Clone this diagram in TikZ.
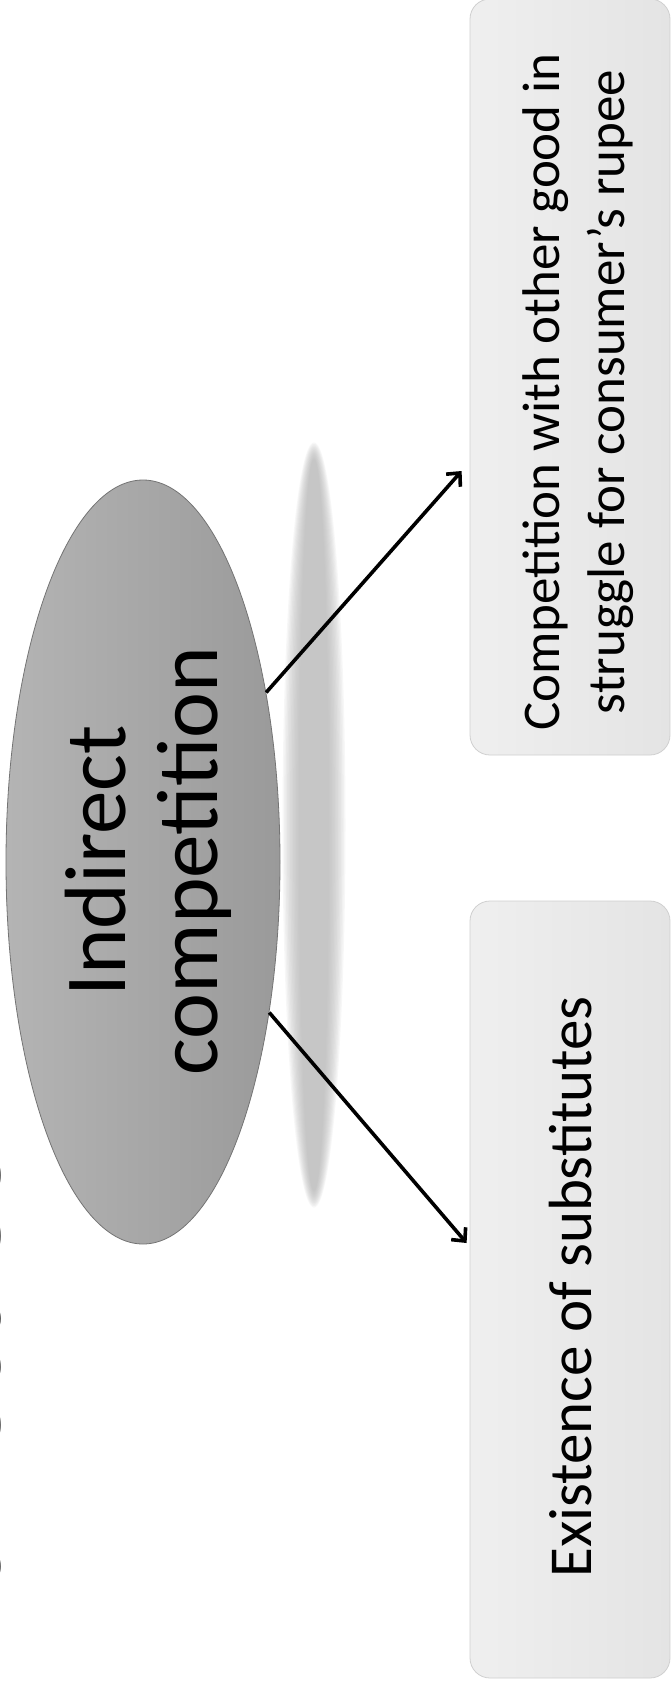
\documentclass[tikz,border=0pt]{standalone}
\usepackage{fontspec}
\setmainfont{Carlito}
\usetikzlibrary{arrows.meta,shapes.geometric}
\definecolor{boxL}{HTML}{EFEFEF}
\definecolor{boxR}{HTML}{E4E4E4}
\definecolor{boxD}{HTML}{D0D0D0}
\definecolor{ellL}{HTML}{B4B4B4}
\definecolor{ellR}{HTML}{9A9A9A}
\definecolor{ellD}{HTML}{747474}
\definecolor{titleC}{HTML}{4F4F4F}
\definecolor{shadowC}{HTML}{B5B5B5}
\begin{document}
\begin{tikzpicture}[x=1pt,y=-1pt,
  boxstyle/.style={rectangle, rounded corners=20pt, draw=boxD, line width=0.8pt,
    left color=boxL, right color=boxR, minimum width=200pt, inner sep=0pt},
  ellstyle/.style={ellipse, inner sep=0pt, draw=ellD, line width=0.8pt,
    left color=ellL, right color=ellR},
  lbl/.style={rotate=90, align=center, text=black, inner sep=0pt},
  conn/.style={draw=black, line width=3.6pt, -{Straight Barb[length=10pt,width=19pt]}}
]
\useasboundingbox (0,0) rectangle (671,1691);
\clip (0,0) rectangle (671,1691);
\fill[white] (0,0) rectangle (671,1691);
% clipped title
\node[rotate=90, anchor=base east, text=titleC, inner sep=0pt,
  font=\fontsize{124}{124}\selectfont] (title) at (0,1044) {Indirect Com};
% shadow
\foreach \k in {0,...,11}
  \fill[shadowC, opacity=0.1] (314,825) ellipse [x radius={15pt+1.5pt*\k}, y radius={366pt+1.5pt*\k}];
% boxes
\node[boxstyle, minimum height=756pt] (b1) at (570,377) {};
\node[boxstyle, minimum height=777pt] (b2) at (570,1289.5) {};
% ellipse
\node[ellstyle, minimum width=274pt, minimum height=764pt] (ic) at (143,862) {};
% connectors
\draw[conn] (ic.54) -- ([xshift=-8pt,yshift=-94pt]b1.west);
\draw[conn] (ic.-50) -- ([xshift=-3pt,yshift=46.5pt]b2.west);
% texts
\node[lbl, font=\fontsize{87}{92}\selectfont] (ictext) at (148,861) {Indirect\\competition};
\node[lbl, font=\fontsize{53}{65}\selectfont] (t1) at (578,392) {Competition with other good in\\struggle for consumer’s rupee};
\node[lbl, font=\fontsize{61}{73}\selectfont] (t2) at (571,1287) {Existence of substitutes};
\end{tikzpicture}
\end{document}
